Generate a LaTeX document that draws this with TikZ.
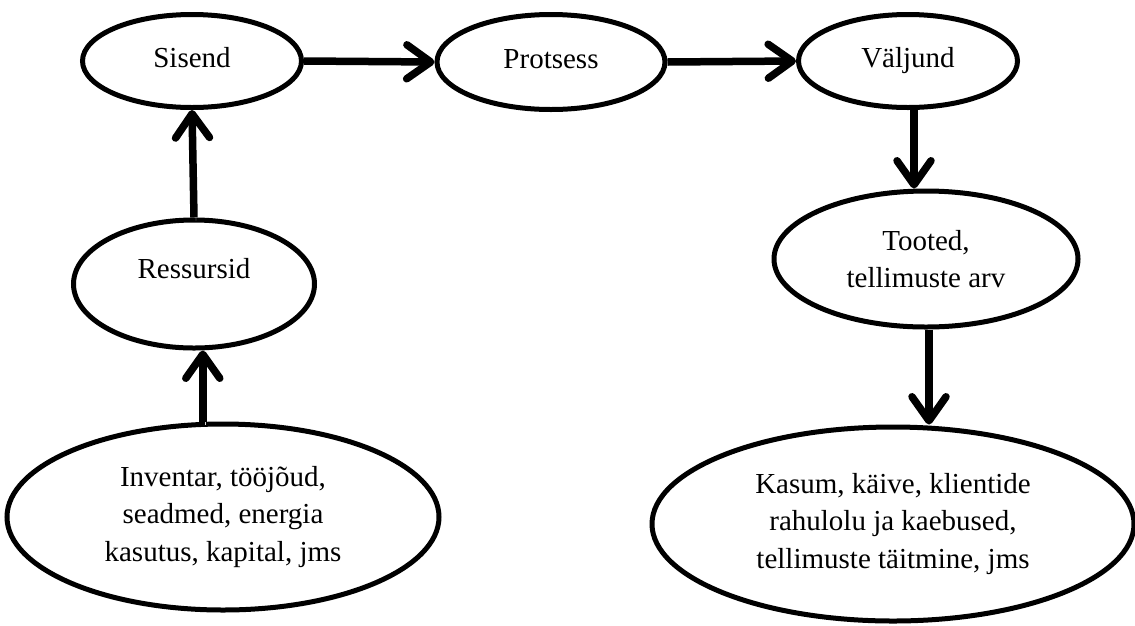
\documentclass[tikz,border=0pt]{standalone}
\usepackage{fontspec}
\setmainfont{Liberation Serif}
\usetikzlibrary{positioning,shapes.geometric,arrows.meta}
\tikzset{
  basic/.style  = {draw, ellipse, line width=5pt, inner sep=0pt, align=center,
                   font=\fontsize{29}{37.5}\selectfont},
  one line/.style   = {text height=19pt, text depth=7pt},
  small oval/.style = {basic, one line, minimum width=219pt, minimum height=93pt},
  mid oval/.style   = {basic, minimum width=241pt, minimum height=128pt},
  big oval/.style   = {basic, minimum width=432pt, minimum height=186pt}
}

\begin{document}
\begin{tikzpicture}[
  x=1pt, y=-1pt,
  flow/.style={line width=7.5pt, -{Straight Barb[length=24pt,width=34pt,round]},
               preaction={draw=black!15, transform canvas={xshift=2pt,yshift=-3pt}}}]
\useasboundingbox (0,0) rectangle (1135,625);

% top row
\node[small oval] (sisend)   at (192,61)  {Sisend};
\node[small oval, minimum width=228pt, minimum height=95pt] (protsess) at (551,62) {Protsess};
\node[small oval] (valjund)  at (908,61)  {Väljund};
% left column
\node[mid oval, one line, text depth=31pt] (ressursid) at (194,284) {Ressursid};
\node[big oval] (inventar) at (223,517)
  {Inventar, tööjõud,\\ seadmed, energia\\ kasutus, kapital, jms};
% right column
\node[mid oval, minimum width=304pt, minimum height=136pt] (tooted) at (926,259)
  {Tooted,\\ tellimuste arv};
\node[big oval, minimum width=482pt, minimum height=194pt] (kasum) at (893,524)
  {Kasum, käive, klientide\\ rahulolu ja kaebused,\\ tellimuste täitmine, jms};

\draw[flow] (sisend.east) -- (protsess.west);
\draw[flow] (protsess.east) -- (valjund.west);
\draw[flow] (ressursid.north) -- (sisend.south);
\draw[flow] (inventar.102) -- (inventar.102 |- ressursid.south);
\draw[flow] ([xshift=6pt]valjund.south) -- ([xshift=6pt]valjund.south |- tooted.north);
\draw[flow] ([xshift=3pt]tooted.south) -- ([xshift=3pt]tooted.south |- kasum.north);
\end{tikzpicture}
\end{document}
